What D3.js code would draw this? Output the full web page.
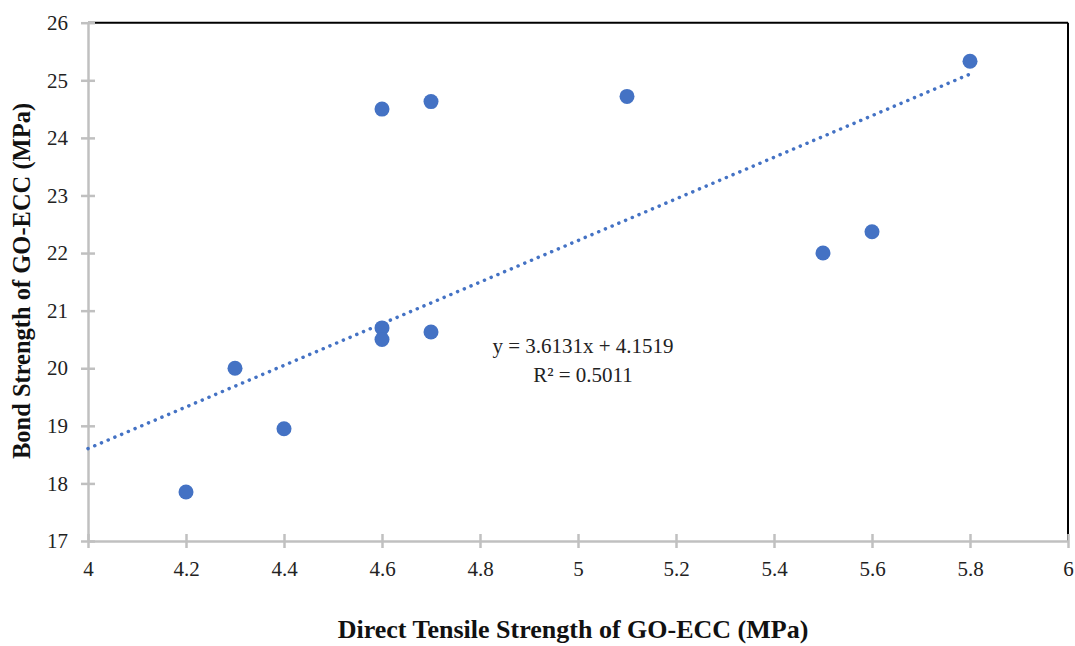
<!DOCTYPE html>
<html>
<head>
<meta charset="utf-8">
<script src="https://cdn.jsdelivr.net/npm/d3@7"></script>
<style>
  body { margin: 0; background: #fff; }
  svg text { font-family: "Liberation Serif", "Times New Roman", serif; }
</style>
</head>
<body>
<div id="chart"></div>
<script>
// data
var tensile = [4.2, 4.3, 4.4, 4.6, 4.6, 4.6, 4.7, 4.7, 5.1, 5.5, 5.6, 5.8];
var bond = [17.85, 20.0, 18.95, 24.5, 20.7, 20.5, 24.63, 20.63, 24.72, 22.0, 22.37, 25.33];
var xTicks = [4, 4.2, 4.4, 4.6, 4.8, 5, 5.2, 5.4, 5.6, 5.8, 6];
var yTicks = [17, 18, 19, 20, 21, 22, 23, 24, 25, 26];
var slope = 3.6131, intercept = 4.1519, r2 = 0.5011;
var trendX = [4, 5.8];

var W = 1075, H = 646;
var svg = d3.select("#chart").append("svg")
        .attr("width", W)
        .attr("height", H);

var x = d3.scaleLinear().domain([4, 6]).range([88, 1068]);
var y = d3.scaleLinear().domain([17, 26]).range([541, 22.7]);

// black outline on top and right
svg.append("line")
        .attr("x1", x(4)).attr("x2", x(6))
        .attr("y1", y(26)).attr("y2", y(26))
        .attr("stroke", "#000").attr("stroke-width", 2);
svg.append("line")
        .attr("x1", x(6)).attr("x2", x(6))
        .attr("y1", y(26)).attr("y2", y(17))
        .attr("stroke", "#000").attr("stroke-width", 2);

var grey = "#c0c0c0";

// x axis
var xAxis = svg.append("g")
        .attr("transform", "translate(0," + y(17) + ")")
        .call(d3.axisBottom(x).tickValues(xTicks).tickSize(7).tickSizeOuter(0)
              .tickFormat(function (d) { return String(d); }));
xAxis.attr("font-family", null).attr("font-size", null);
xAxis.select(".domain").attr("stroke", grey).attr("stroke-width", 2.5);
xAxis.selectAll(".tick line").attr("stroke", grey).attr("stroke-width", 2.5).attr("y1", -7);
xAxis.selectAll(".tick text")
        .attr("y", 20).attr("dy", "0.71em")
        .attr("font-size", 21).attr("fill", "#222");

// y axis
var yAxis = svg.append("g")
        .attr("transform", "translate(" + x(4) + ",0)")
        .call(d3.axisLeft(y).tickValues(yTicks).tickSize(7).tickSizeOuter(0));
yAxis.attr("font-family", null).attr("font-size", null);
yAxis.select(".domain").attr("stroke", grey).attr("stroke-width", 2.5);
yAxis.selectAll(".tick line").attr("stroke", grey).attr("stroke-width", 2.5).attr("x1", 7);
yAxis.selectAll(".tick text")
        .attr("x", -20)
        .attr("font-size", 21).attr("fill", "#222");

// trendline
var blue = "#4472C4";
svg.append("line")
        .attr("x1", x(trendX[0])).attr("y1", y(slope * trendX[0] + intercept))
        .attr("x2", x(trendX[1])).attr("y2", y(slope * trendX[1] + intercept))
        .attr("stroke", blue)
        .attr("stroke-width", 3.5)
        .attr("stroke-linecap", "round")
        .attr("stroke-dasharray", "0.1 7.2");

// points
svg.selectAll("circle.pt")
        .data(tensile)
        .enter().append("circle")
        .attr("class", "pt")
        .attr("cx", function (d) { return x(d); })
        .attr("cy", function (d, i) { return y(bond[i]); })
        .attr("r", 7.5)
        .attr("fill", blue);

// equation label
svg.append("text")
        .attr("x", 583).attr("y", 353)
        .attr("text-anchor", "middle")
        .attr("font-size", 21).attr("fill", "#222")
        .text("y = " + slope + "x + " + intercept);
svg.append("text")
        .attr("x", 583).attr("y", 382)
        .attr("text-anchor", "middle")
        .attr("font-size", 21).attr("fill", "#222")
        .text("R² = " + r2);

// axis titles
svg.append("text")
        .attr("x", 573).attr("y", 638)
        .attr("text-anchor", "middle")
        .attr("font-size", 26).attr("font-weight", "bold").attr("fill", "#111")
        .text("Direct Tensile Strength of GO-ECC (MPa)");
svg.append("text")
        .attr("transform", "translate(30,281) rotate(-90)")
        .attr("text-anchor", "middle")
        .attr("font-size", 24.5).attr("font-weight", "bold").attr("fill", "#111")
        .text("Bond Strength of GO-ECC (MPa)");
</script>
</body>
</html>
